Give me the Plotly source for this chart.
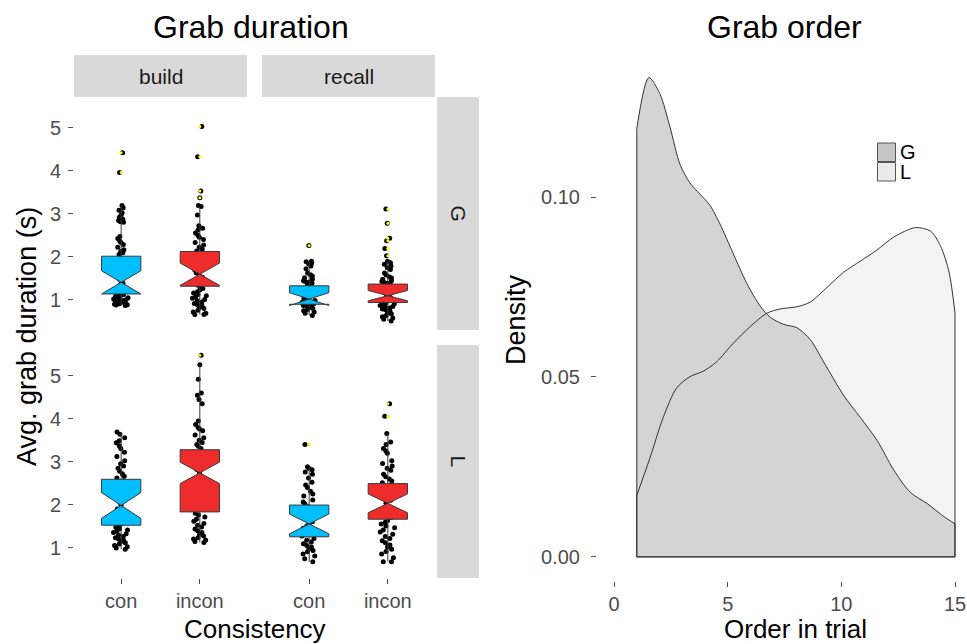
import plotly.graph_objects as go

W, H = 967, 644
FONT = "Liberation Sans, Arial, sans-serif"

# ---------------- data ----------------
consistency = ["con", "incon"]
tasks = ["build", "recall"]
hands = ["G", "L"]

# group order: build-G-con, build-G-incon, recall-G-con, recall-G-incon,
#              build-L-con, build-L-incon, recall-L-con, recall-L-incon
q1 = [1.13, 1.31, 0.89, 0.93, 1.52, 1.83, 1.25, 1.66]
medians = [1.40, 1.59, 1.01, 1.09, 1.98, 2.74, 1.55, 2.03]
q3 = [2.01, 2.12, 1.32, 1.36, 2.59, 3.28, 1.99, 2.49]
whisker_low = [0.86, 0.65, 0.63, 0.50, 0.96, 1.12, 0.67, 0.67]
whisker_high = [3.19, 3.19, 1.89, 1.89, 3.69, 5.26, 2.88, 3.66]
notch_span = [0.27, 0.26, 0.15, 0.12, 0.30, 0.25, 0.23, 0.22]

outliers_bG_con = [4.42, 3.96]
outliers_bG_incon = [5.03, 4.33, 3.53, 3.37]
outliers_rG_con = [2.26]
outliers_rG_incon = [3.11, 2.78, 2.43, 2.37, 2.19, 2.02]
outliers_bL_con = []
outliers_bL_incon = [5.48]
outliers_rL_con = [3.40]
outliers_rL_incon = [4.35, 4.06]

pts_bG_con = [4.42, 3.96, 3.19, 3.14, 3.08, 3.02, 2.97, 2.92, 2.87, 2.84, 2.81, 2.80,
              2.47, 2.42, 2.36, 2.33, 2.28, 2.22, 2.16, 2.12, 2.09, 2.05, 1.96, 1.88,
              1.79, 1.71, 1.63, 1.55, 1.49, 1.44, 1.38, 1.33, 1.28, 1.23, 1.19, 1.15,
              1.12, 1.10, 1.09, 1.07, 1.06, 1.04, 1.03, 1.01, 1.00, 0.99, 0.98, 0.96,
              0.95, 0.94, 0.93, 0.91, 0.90, 0.89, 0.88, 0.87, 0.86]
pts_bG_incon = [5.03, 4.33, 3.53, 3.37, 3.19, 3.17, 2.97, 2.72, 2.66, 2.62, 2.55, 2.50,
                2.45, 2.40, 2.33, 2.27, 2.22, 2.17, 2.13, 2.05, 1.98, 1.90, 1.82, 1.75,
                1.68, 1.62, 1.57, 1.52, 1.47, 1.42, 1.37, 1.33, 1.29, 1.26, 1.22, 1.18,
                1.15, 1.12, 1.09, 1.06, 1.03, 1.00, 0.97, 0.94, 0.91, 0.88, 0.85, 0.82,
                0.79, 0.75, 0.71, 0.68, 0.65, 0.65]
pts_rG_con = [2.26, 1.89, 1.88, 1.86, 1.83, 1.78, 1.72, 1.62, 1.58, 1.55, 1.51, 1.47,
              1.44, 1.42, 1.40, 1.38, 1.35, 1.30, 1.26, 1.22, 1.18, 1.14, 1.10, 1.06,
              1.03, 1.00, 0.98, 0.96, 0.93, 0.91, 0.88, 0.87, 0.86, 0.85, 0.83, 0.81,
              0.79, 0.77, 0.74, 0.71, 0.68, 0.63]
pts_rG_incon = [3.11, 2.78, 2.43, 2.37, 2.19, 2.02, 1.89, 1.86, 1.82, 1.78, 1.74, 1.70,
                1.62, 1.57, 1.53, 1.50, 1.47, 1.44, 1.42, 1.40, 1.38, 1.33, 1.28, 1.23,
                1.18, 1.13, 1.09, 1.05, 1.01, 0.98, 0.95, 0.92, 0.90, 0.88, 0.86, 0.84,
                0.82, 0.80, 0.78, 0.76, 0.73, 0.70, 0.67, 0.63, 0.60, 0.57, 0.54, 0.50]
pts_bL_con = [3.69, 3.64, 3.56, 3.49, 3.44, 3.37, 3.31, 3.22, 3.12, 3.02, 2.95, 2.90,
              2.85, 2.78, 2.72, 2.66, 2.62, 2.55, 2.45, 2.35, 2.25, 2.15, 2.05, 1.98,
              1.90, 1.80, 1.70, 1.62, 1.55, 1.50, 1.47, 1.44, 1.41, 1.38, 1.35, 1.32,
              1.29, 1.26, 1.23, 1.20, 1.17, 1.14, 1.11, 1.08, 1.05, 1.02, 0.99, 0.96]
pts_bL_incon = [5.48, 5.26, 4.92, 4.60, 4.55, 4.45, 4.35, 3.95, 3.87, 3.80, 3.76, 3.72,
                3.62, 3.56, 3.50, 3.45, 3.40, 3.36, 3.31, 3.20, 3.10, 3.00, 2.90, 2.82,
                2.74, 2.65, 2.55, 2.45, 2.35, 2.25, 2.15, 2.05, 1.95, 1.88, 1.80, 1.76,
                1.71, 1.66, 1.61, 1.56, 1.52, 1.48, 1.43, 1.39, 1.35, 1.31, 1.27, 1.23,
                1.20, 1.17, 1.14, 1.12]
pts_rL_con = [3.40, 2.88, 2.85, 2.81, 2.76, 2.71, 2.62, 2.52, 2.46, 2.40, 2.31, 2.25,
              2.20, 2.11, 2.06, 2.02, 1.95, 1.90, 1.85, 1.80, 1.75, 1.70, 1.65, 1.60,
              1.55, 1.50, 1.45, 1.40, 1.35, 1.30, 1.27, 1.21, 1.17, 1.13, 1.09, 1.05,
              1.01, 0.97, 0.93, 0.90, 0.85, 0.80, 0.74, 0.67]
pts_rL_incon = [4.35, 4.06, 3.66, 3.46, 3.40, 3.31, 3.25, 3.20, 3.02, 2.96, 2.90, 2.85,
                2.80, 2.71, 2.65, 2.60, 2.55, 2.51, 2.45, 2.40, 2.30, 2.20, 2.10, 2.03,
                1.95, 1.85, 1.80, 1.75, 1.70, 1.63, 1.59, 1.55, 1.50, 1.46, 1.41, 1.36,
                1.31, 1.26, 1.21, 1.16, 1.11, 1.06, 1.01, 0.96, 0.91, 0.85, 0.76, 0.67, 0.67]

# density of grab order
order_G_x = [1.0, 1.53, 2.01, 2.46, 2.90, 3.34, 3.78, 4.22, 4.66, 5.25, 5.84, 6.43,
             6.87, 7.46, 8.04, 8.63, 9.22, 10.10, 10.84, 11.57, 12.31, 13.04, 13.78,
             14.51, 15.0]
order_G_y = [0.1190, 0.1332, 0.1288, 0.1195, 0.1091, 0.1039, 0.1008, 0.0977, 0.0925,
             0.0842, 0.0760, 0.0697, 0.0666, 0.0646, 0.0637, 0.0604, 0.0542, 0.0449,
             0.0387, 0.0324, 0.0241, 0.0179, 0.0148, 0.0112, 0.0092]
order_L_x = [1.0, 1.57, 2.16, 2.75, 3.34, 3.93, 4.51, 5.25, 5.99, 6.72, 7.31, 8.04,
             8.63, 9.37, 10.10, 10.84, 11.57, 12.31, 13.26, 13.93, 14.37, 14.74, 15.0]
order_L_y = [0.0171, 0.0273, 0.0387, 0.0469, 0.0501, 0.0516, 0.0542, 0.0594, 0.0640,
             0.0677, 0.0689, 0.0695, 0.0708, 0.0749, 0.0791, 0.0822, 0.0853, 0.0889,
             0.0915, 0.0905, 0.0863, 0.0791, 0.0677]

# ---------------- assembly ----------------
points = [pts_bG_con, pts_bG_incon, pts_rG_con, pts_rG_incon,
          pts_bL_con, pts_bL_incon, pts_rL_con, pts_rL_incon]
outliers = [outliers_bG_con, outliers_bG_incon, outliers_rG_con, outliers_rG_incon,
            outliers_bL_con, outliers_bL_incon, outliers_rL_con, outliers_rL_incon]
group_cons = [consistency[i % 2] for i in range(8)]
group_panel = [1, 1, 2, 2, 3, 3, 4, 4]
box_colors = {"con": "#00BFFF", "incon": "#EE2C2C"}


def px_x(p):
    return p / W


def px_y(p):
    return 1 - p / H


def axn(i, kind):
    return kind if i == 1 else f"{kind}{i}"


fig = go.Figure()

# jittered points (drawn first, box covers them)
for i in range(8):
    pnl = group_panel[i]
    fig.add_trace(go.Box(
        x=[group_cons[i]] * len(points[i]), y=points[i],
        xaxis=axn(pnl, "x"), yaxis=axn(pnl, "y"),
        boxpoints="all", jitter=0.4, pointpos=0, width=0.5,
        fillcolor="rgba(0,0,0,0)", line=dict(width=0, color="rgba(0,0,0,0)"),
        marker=dict(color="black", size=5, line=dict(width=0)),
        whiskerwidth=0, showlegend=False, hoverinfo="y",
    ))

# notched boxes from summary statistics
for i in range(8):
    pnl = group_panel[i]
    fig.add_trace(go.Box(
        x=[group_cons[i]], q1=[q1[i]], median=[medians[i]], q3=[q3[i]],
        lowerfence=[whisker_low[i]], upperfence=[whisker_high[i]],
        notchspan=[notch_span[i]], notched=True, notchwidth=0.5,
        xaxis=axn(pnl, "x"), yaxis=axn(pnl, "y"),
        width=0.5, whiskerwidth=0, boxpoints=False,
        fillcolor=box_colors[group_cons[i]],
        line=dict(color="#3a3a3a", width=1),
        showlegend=False,
    ))

# outliers
for i in range(8):
    if not outliers[i]:
        continue
    pnl = group_panel[i]
    fig.add_trace(go.Scatter(
        x=[group_cons[i]] * len(outliers[i]), y=outliers[i], mode="markers",
        xaxis=axn(pnl, "x"), yaxis=axn(pnl, "y"),
        marker=dict(color="#FFFF00", size=3, line=dict(width=0)),
        showlegend=False, hoverinfo="y",
    ))

# density plot
fill_G, fill_L = "#D4D4D4", "#F3F3F3"
for xs, ys, col in [(order_L_x, order_L_y, fill_L), (order_G_x, order_G_y, fill_G)]:
    fig.add_trace(go.Scatter(
        x=xs, y=ys, xaxis="x5", yaxis="y5", mode="lines", fill="tozeroy",
        fillcolor=col, line=dict(width=0, shape="spline", smoothing=0.8),
        showlegend=False, hoverinfo="skip",
    ))
for xs, ys in [(order_L_x, order_L_y), (order_G_x, order_G_y)]:
    fig.add_trace(go.Scatter(
        x=xs, y=ys, xaxis="x5", yaxis="y5", mode="lines",
        line=dict(width=1, color="#333333", shape="spline", smoothing=0.8),
        showlegend=False, hoverinfo="x+y",
    ))
    fig.add_trace(go.Scatter(
        x=[xs[0], xs[0], xs[-1], xs[-1]], y=[ys[0], 0, 0, ys[-1]],
        xaxis="x5", yaxis="y5", mode="lines",
        line=dict(width=1, color="#333333"), showlegend=False, hoverinfo="skip",
    ))

# ---------------- layout ----------------
tick_font = dict(family=FONT, size=20, color="#4D4D4D")
col_dom = [[px_x(74), px_x(247)], [px_x(262), px_x(435)]]
row_dom = [[px_y(330), px_y(97)], [px_y(578), px_y(345)]]
yr = [0.29, 5.72]

layout = dict(
    width=W, height=H, autosize=False,
    margin=dict(l=0, r=0, t=0, b=0),
    paper_bgcolor="white", plot_bgcolor="white",
    boxmode="overlay", showlegend=False,
    font=dict(family=FONT, color="black"),
)
for pnl in range(1, 5):
    c = (pnl - 1) % 2
    r = (pnl - 1) // 2
    bottom = r == 1
    left = c == 0
    layout[axn(pnl, "xaxis")] = dict(
        domain=col_dom[c], anchor=axn(pnl, "y"), type="category",
        categoryorder="array", categoryarray=consistency, range=[-0.6, 1.6],
        showgrid=False, zeroline=False, showline=False,
        showticklabels=bottom, ticks="outside" if bottom else "",
        ticklen=5, tickwidth=1, tickcolor="#4D4D4D", tickfont=tick_font,
        ticklabelstandoff=0, fixedrange=True,
    )
    layout[axn(pnl, "yaxis")] = dict(
        domain=row_dom[r], anchor=axn(pnl, "x"), range=yr,
        tickvals=[1, 2, 3, 4, 5], showgrid=False, zeroline=False, showline=False,
        showticklabels=left, ticks="outside" if left else "",
        ticklen=5, tickwidth=1, tickcolor="#4D4D4D", tickfont=tick_font,
        ticklabelstandoff=3, fixedrange=True,
    )

layout["xaxis5"] = dict(
    domain=[px_x(597), 1.0], anchor="y5", range=[-0.75, (967 - 614) / 22.733],
    tickvals=[0, 5, 10, 15], showgrid=False, zeroline=False, showline=False,
    ticks="outside", ticklen=5, tickwidth=1, tickcolor="#4D4D4D", tickfont=tick_font,
    ticklabelstandoff=0, ticklabeloverflow="allow", fixedrange=True,
)
layout["yaxis5"] = dict(
    domain=[px_y(581), px_y(52)], anchor="x5", range=[-0.0067, 0.1403],
    tickvals=[0, 0.05, 0.10], ticktext=["0.00", "0.05", "0.10"],
    showgrid=False, zeroline=False, showline=False,
    ticks="outside", ticklen=5, tickwidth=1, tickcolor="#4D4D4D", tickfont=tick_font,
    ticklabelstandoff=7, fixedrange=True,
)

shapes = []
strip_col = "#D9D9D9"
for c in range(2):
    shapes.append(dict(type="rect", xref="paper", yref="paper",
                       x0=col_dom[c][0], x1=col_dom[c][1], y0=px_y(97), y1=px_y(55),
                       fillcolor=strip_col, line=dict(width=0), layer="below"))
for r in range(2):
    shapes.append(dict(type="rect", xref="paper", yref="paper",
                       x0=px_x(437), x1=px_x(479), y0=row_dom[r][0], y1=row_dom[r][1],
                       fillcolor=strip_col, line=dict(width=0), layer="below"))
# legend keys
shapes.append(dict(type="rect", xref="paper", yref="paper",
                   x0=px_x(877.5), x1=px_x(895.5), y0=px_y(161.5), y1=px_y(143),
                   fillcolor="#C6C6C6", line=dict(width=1, color="#555555")))
shapes.append(dict(type="rect", xref="paper", yref="paper",
                   x0=px_x(877.5), x1=px_x(895.5), y0=px_y(181), y1=px_y(162.5),
                   fillcolor="#EBEBEB", line=dict(width=1, color="#555555")))
layout["shapes"] = shapes


def ann(text, x, y, size, angle=0, color="black", xanchor="center"):
    return dict(text=text, x=px_x(x), y=px_y(y), xref="paper", yref="paper",
                showarrow=False, textangle=angle, xanchor=xanchor, yanchor="middle",
                font=dict(family=FONT, size=size, color=color))


annotations = [
    ann("Grab duration", 251, 27, 32),
    ann("Grab order", 784, 27, 32),
    ann(tasks[0], (74 + 247) / 2, 76, 21, color="#1A1A1A"),
    ann(tasks[1], (262 + 435) / 2, 76, 21, color="#1A1A1A"),
    ann(hands[0], 458, (97 + 330) / 2, 21, angle=90, color="#1A1A1A"),
    ann(hands[1], 458, (345 + 578) / 2, 21, angle=90, color="#1A1A1A"),
    ann("Avg. grab duration (s)", 27, 337, 27, angle=-90),
    ann("Consistency", 255, 629, 26),
    ann("Density", 516, 320, 27, angle=-90),
    ann("Order in trial", 795, 629, 26),
    ann(hands[0], 898, 152, 20, xanchor="left"),
    ann(hands[1], 898, 172, 20, xanchor="left"),
]
layout["annotations"] = annotations

fig.update_layout(**layout)
fig.write_html(
    "out.html",
    config={"displayModeBar": False},
    post_script="document.body.style.margin='0';document.body.style.overflow='hidden';",
)
